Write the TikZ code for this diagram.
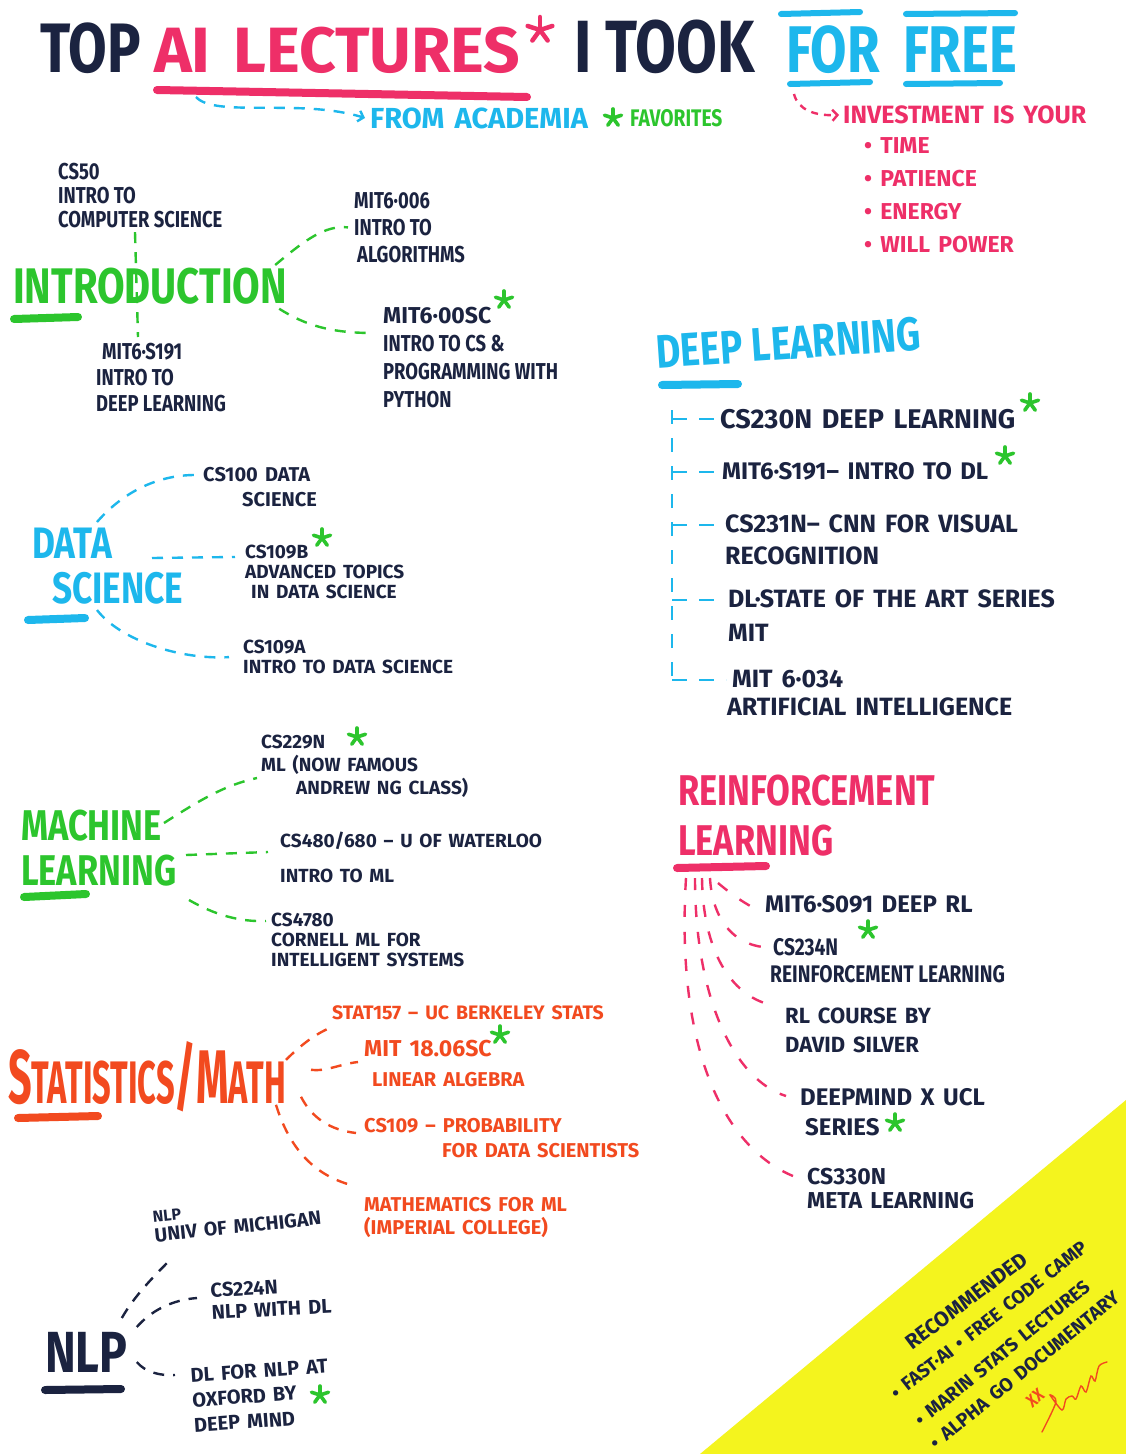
\documentclass[tikz,border=0pt]{standalone}
\usepackage{fontspec}
\setmainfont{Fira Sans}[FakeStretch=0.8]
\newfontfamily\wideface{Fira Sans}[WordSpace=1.5]
\usepackage{graphicx}
\usetikzlibrary{arrows.meta}

\definecolor{ink}{HTML}{1B2340}
\definecolor{hlpink}{HTML}{EE2F68}
\definecolor{hlcyan}{HTML}{1DB7EC}
\definecolor{hlgreen}{HTML}{2CC52D}
\definecolor{hlorange}{HTML}{F24A1F}
\definecolor{hlyellow}{HTML}{F4F41E}

\newcommand{\hand}[2]{\fontsize{#1}{#2}\selectfont\bfseries}
\newcommand{\whand}[2]{\wideface\fontsize{#1}{#2}\selectfont\bfseries}

\tikzset{
  head/.style={anchor=north west,inner sep=0pt,align=left},
  item/.style={anchor=north west,inner sep=0pt,align=left,text=ink},
  link/.style={line width=2.4pt,dash pattern=on 11pt off 9pt},
  uline/.style={line width=8pt,line cap=round},
  fav/.style={line width=3.6pt,line cap=round,draw=hlgreen},
  barb/.style={-{Straight Barb[length=5pt,width=11pt,line width=2.4pt]}},
}

\begin{document}
\begin{tikzpicture}[x=1pt,y=1pt]
   \fill[white] (0,0) rectangle (1126,-1454);
   \useasboundingbox (0,0) rectangle (1126,-1454);
   \fill[hlyellow] (1126,-1100) -- (700,-1454) -- (1126,-1454) -- cycle;

   % title
   \node[head,anchor=base west,text=ink,font=\hand{70}{70}] (top) at (40,-72) {TOP};
   \node[head,anchor=base west,text=hlpink,font=\whand{64}{64}] (ai) at (154,-72) {AI LECTURES};
   \node[head,anchor=base west,text=ink,font=\hand{74}{74}] (took) at (574,-72) {I TOOK};
   \node[head,anchor=base west,text=hlcyan,font=\hand{66}{66}] (for) at (786,-72) {FOR};
   \node[head,anchor=base west,text=hlcyan,font=\hand{66}{66}] (free) at (903,-72) {FREE};
   \draw[uline,hlpink] (157,-90) -- (527,-97);
   \draw[uline,hlcyan,line width=6pt] (781,-14) -- (860,-12);
   \draw[uline,hlcyan,line width=6pt] (906,-14) -- (1015,-13);
   \draw[uline,hlcyan,line width=6pt] (790,-84) -- (870,-82);
   \draw[uline,hlcyan,line width=6pt] (906,-84) -- (1000,-83);
   \coordinate (ailine) at (196,-97);
   \coordinate (forline) at (794,-94);

   \node[head,anchor=west,text=hlcyan,font=\whand{29}{29}] (academia) at (370,-118) {FROM ACADEMIA};
   \node[head,anchor=west,text=hlgreen,font=\hand{24}{24}] (favs) at (630,-118) {FAVORITES};
   \draw[link,hlcyan,barb] (ailine) .. controls (215,-118) and (300,-98) .. ([xshift=-5pt]academia.west);

   \node[head,anchor=west,text=hlpink,font=\whand{25}{25}] (invest) at (843,-115) {INVESTMENT IS YOUR};
   \node[head,text=hlpink,font=\whand{23}{33}] (invlist) at (864,-137) {• TIME\\• PATIENCE\\• ENERGY\\• WILL POWER};
   \draw[link,hlpink,barb,dash pattern=on 7pt off 6pt] (forline) .. controls (798,-110) and (815,-116) .. ([xshift=-4pt]invest.west);

   % introduction
   \node[head,text=hlgreen,font=\hand{50}{50}] (intro) at (13,-268) {INTRODUCTION};
   \draw[uline,hlgreen] (14,-319) -- (78,-317);
   \node[item,font=\hand{23}{24}] (cs50) at (58,-163) {CS50\\INTRO TO\\COMPUTER SCIENCE};
   \node[item,font=\hand{23}{26}] (s191) at (96,-343) {\hspace*{6pt}MIT6·S191\\INTRO TO\\DEEP LEARNING};
   \node[item,font=\hand{23}{27}] (m006) at (354,-192) {MIT6·006\\INTRO TO\\\hspace*{3pt}ALGORITHMS};
   \node[item,font=\hand{23}{28}] (m00sc) at (383,-307) {{\wideface MIT6·00SC}\\INTRO TO CS \&\\PROGRAMMING WITH\\PYTHON};
   \draw[link,hlgreen] ([xshift=77pt,yshift=-4pt]cs50.south west) -- ([xshift=42pt,yshift=6pt]s191.north west);
   \draw[link,hlgreen] ([xshift=-12pt,yshift=3pt]intro.north east) .. controls (305,-240) and (325,-225) .. ([xshift=-6pt]m006.west);
   \draw[link,hlgreen] ([xshift=-8pt,yshift=-4pt]intro.south east) .. controls (305,-325) and (330,-333) .. ([xshift=-10pt,yshift=-26pt]m00sc.north west);

   % data science
   \node[head,text=hlcyan,font=\hand{44}{45}] (ds) at (32,-528) {DATA\\\hspace*{20pt}SCIENCE};
   \draw[uline,hlcyan] (28,-620) -- (85,-618);
   \node[item,font=\whand{20}{25}] (cs100) at (203,-467) {CS100 DATA\\\hspace*{39pt}SCIENCE};
   \node[item,font=\whand{19}{20}] (cs109b) at (245,-545) {CS109B\\ADVANCED TOPICS\\\hspace*{6pt}IN DATA SCIENCE};
   \node[item,font=\whand{19}{20}] (cs109a) at (243,-640) {CS109A\\INTRO TO DATA SCIENCE};
   \draw[link,hlcyan] ([xshift=65pt,yshift=6pt]ds.north west) .. controls (125,-490) and (160,-475) .. ([xshift=-8pt,yshift=-8pt]cs100.north west);
   \draw[link,hlcyan] ([xshift=120pt,yshift=-30pt]ds.north west) -- ([xshift=-10pt,yshift=-12pt]cs109b.north west);
   \draw[link,hlcyan] ([xshift=65pt,yshift=-82pt]ds.north west) .. controls (120,-640) and (180,-660) .. ([xshift=-14pt]cs109a.west);

   % machine learning
   \node[head,text=hlgreen,font=\hand{43}{45}] (ml) at (21,-810) {MACHINE\\LEARNING};
   \draw[uline,hlgreen] (24,-897) -- (86,-894);
   \node[item,font=\whand{19}{23}] (cs229n) at (261,-735) {CS229N\\ML (NOW FAMOUS\\\hspace*{35pt}ANDREW NG CLASS)};
   \node[item,font=\whand{19}{35}] (cs480) at (280,-832) {CS480/680 – U OF WATERLOO\\INTRO TO ML};
   \node[item,font=\whand{19}{20}] (cs4780) at (271,-913) {CS4780\\CORNELL ML FOR\\INTELLIGENT SYSTEMS};
   \draw[link,hlgreen] ([xshift=143pt,yshift=-13pt]ml.north west) .. controls (200,-800) and (225,-785) .. ([xshift=-4pt,yshift=-43pt]cs229n.north west);
   \draw[link,hlgreen] ([xshift=165pt,yshift=-45pt]ml.north west) -- ([xshift=-12pt,yshift=-20pt]cs480.north west);
   \draw[link,hlgreen] ([xshift=168pt,yshift=-90pt]ml.north west) .. controls (215,-915) and (240,-922) .. ([xshift=-5pt,yshift=-8pt]cs4780.north west);

   % statistics / math
   \node[head,anchor=base west,text=hlorange,font=\hand{60}{60}] (stats) at (8,-1103)
      {\scalebox{0.68}[1]{{\fontsize{76}{76}\selectfont S}TATISTICS{\fontsize{76}{76}\selectfont /M}ATH}};
   \draw[uline,hlorange] (18,-1118) -- (98,-1116);
   \node[item,text=hlorange,font=\whand{19.5}{21}] (stat157) at (332,-1005) {STAT157 – UC BERKELEY STATS};
   \node[item,text=hlorange,font=\whand{20}{30}] (m1806) at (364,-1040) {{\fontsize{23}{23}\selectfont MIT 18.06SC}\\\hspace*{8pt}LINEAR ALGEBRA};
   \node[item,text=hlorange,font=\whand{20}{25}] (cs109) at (364,-1118) {CS109 – PROBABILITY\\\hspace*{78pt}FOR DATA SCIENTISTS};
   \node[item,text=hlorange,font=\whand{20}{23}] (mathml) at (364,-1197) {MATHEMATICS FOR ML\\(IMPERIAL COLLEGE)};
   \draw[link,hlorange] ([xshift=278pt,yshift=-19pt]stats.north west) .. controls (296,-1050) and (312,-1035) .. ([yshift=-22pt]stat157.north west);
   \draw[link,hlorange] ([xshift=303pt,yshift=-29pt]stats.north west) .. controls (325,-1072) and (340,-1064) .. ([xshift=-6pt,yshift=-22pt]m1806.north west);
   \draw[link,hlorange] ([xshift=293pt,yshift=-56pt]stats.north west) .. controls (312,-1118) and (330,-1130) .. ([xshift=-8pt,yshift=-15pt]cs109.north west);
   \draw[link,hlorange] ([xshift=268pt,yshift=-64pt]stats.north west) .. controls (290,-1150) and (315,-1175) .. ([xshift=-13pt,yshift=12pt]mathml.north west);

   % nlp
   \node[head,text=ink,font=\hand{58}{58}] (nlp) at (45,-1332) {NLP};
   \draw[uline,ink] (45,-1390) -- (121,-1389);
   \node[item,font=\whand{19.5}{20},rotate=6] (umich) at (152,-1211) {{\fontsize{16}{16}\selectfont NLP}\\UNIV OF MICHIGAN};
   \node[item,font=\whand{20}{22},rotate=3] (cs224n) at (210,-1283) {CS224N\\NLP WITH DL};
   \node[item,font=\whand{20}{25},rotate=4] (dlnlp) at (190,-1368) {DL FOR NLP AT\\OXFORD BY\\DEEP MIND};
   \draw[link,ink] ([xshift=-6pt,yshift=14pt]nlp.north east) .. controls (135,-1295) and (155,-1275) .. ([xshift=21pt,yshift=-46pt]umich.north west);
   \draw[link,ink] ([xshift=9pt,yshift=5pt]nlp.north east) .. controls (150,-1312) and (170,-1300) .. ([xshift=-13pt,yshift=-15pt]cs224n.north west);
   \draw[link,ink] ([xshift=9pt,yshift=-30pt]nlp.north east) .. controls (145,-1372) and (160,-1376) .. ([xshift=-15pt,yshift=-7pt]dlnlp.north west);

   % deep learning
   \node[head,text=hlcyan,font=\hand{47}{47},rotate=4] (dl) at (655,-335) {DEEP LEARNING};
   \draw[uline,hlcyan] (662,-385) -- (738,-384);
   \node[item,font=\whand{27}{32}] (dl1) at (720,-409) {CS230N DEEP LEARNING};
   \node[item,font=\whand{24}{32}] (dl2) at (722,-462) {MIT6·S191– INTRO TO DL};
   \node[item,font=\whand{25}{32}] (dl3) at (725,-515) {CS231N– CNN FOR VISUAL\\RECOGNITION};
   \node[item,font=\whand{25}{34}] (dl4) at (728,-590) {DL·STATE OF THE ART SERIES\\MIT};
   \node[item,font=\whand{25}{28}] (dl5) at (732,-670) {MIT 6·034\\\hspace*{-5pt}ARTIFICIAL INTELLIGENCE};
   \coordinate (dlrule) at (672,-410);
   \foreach \n in {dl1,dl2,dl3,dl4,dl5}
      \path ([yshift=-10pt]\n.north west) coordinate (\n-in);
   \draw[link,hlcyan,dash pattern=on 14pt off 14pt] (dlrule) -- (dlrule |- dl5-in);
   \foreach \n in {dl1,dl2,dl3,dl4,dl5}
      \draw[link,hlcyan,dash pattern=on 15pt off 12pt] (dlrule |- \n-in) -- ([xshift=-6pt]\n-in);

   % reinforcement learning
   \node[head,text=hlpink,font=\hand{43}{50}] (rl) at (678,-775) {REINFORCEMENT\\LEARNING};
   \draw[uline,hlpink] (677,-868) -- (766,-866);
   \coordinate (rlfoot) at (690,-878);
   \node[item,font=\whand{24}{27}] (rl1) at (765,-895) {MIT6·S091 DEEP RL};
   \node[item,font=\hand{24}{27}] (rl2) at (773,-938) {CS234N\\\hspace*{-3pt}REINFORCEMENT LEARNING};
   \node[item,font=\whand{22}{29}] (rl3) at (785,-1008) {RL COURSE BY\\DAVID SILVER};
   \node[item,font=\whand{24}{30}] (rl4) at (800,-1088) {DEEPMIND X UCL\\\hspace*{5pt}SERIES};
   \node[item,font=\whand{23}{24}] (rl5) at (807,-1168) {CS330N\\META LEARNING};
   \draw[link,hlpink,dash pattern=on 12pt off 15pt] ([xshift=28pt,yshift=-5pt]rlfoot) .. controls (730,-893) and (742,-902) .. ([xshift=-8pt]rl1.mid west);
   \draw[link,hlpink,dash pattern=on 12pt off 15pt] ([xshift=20pt]rlfoot) .. controls (712,-915) and (730,-943) .. ([xshift=-10pt,yshift=-9pt]rl2.north west);
   \draw[link,hlpink,dash pattern=on 12pt off 15pt] ([xshift=12pt]rlfoot) .. controls (703,-950) and (730,-995) .. ([xshift=-14pt,yshift=3pt]rl3.north west);
   \draw[link,hlpink,dash pattern=on 12pt off 15pt] ([xshift=5pt]rlfoot) .. controls (695,-1000) and (735,-1080) .. ([xshift=-14pt,yshift=-8pt]rl4.north west);
   \draw[link,hlpink,dash pattern=on 12pt off 15pt] ([xshift=-4pt]rlfoot) .. controls (675,-1060) and (730,-1150) .. ([xshift=-14pt,yshift=-8pt]rl5.north west);

   % recommended corner
   \node[head,anchor=west,text=ink,font=\whand{21}{21},rotate=37] (rec0) at (908,-1345) {RECOMMENDED};
   \node[head,anchor=west,text=ink,font=\whand{19}{19},rotate=38] (rec1) at (893,-1395) {• FAST·AI • FREE CODE CAMP};
   \node[head,anchor=west,text=ink,font=\whand{19}{19},rotate=39] (rec2) at (917,-1422) {• MARIN STATS LECTURES};
   \node[head,anchor=west,text=ink,font=\whand{19}{19},rotate=39] (rec3) at (932,-1445) {• ALPHA GO DOCUMENTARY};
   \node[head,anchor=center,text=hlorange,font=\hand{18}{18},rotate=38] (xx) at (1035,-1398) {XX};
   \draw[hlorange,line width=1.4pt,line cap=round] plot[smooth] coordinates {(1042,-1432) (1056,-1402) (1050,-1395) (1062,-1410) (1066,-1399) (1072,-1396) (1076,-1399) (1081,-1386) (1086,-1392) (1091,-1376) (1095,-1381) (1099,-1366) (1107,-1362)};

   % favourites
   \foreach \p in {(504,-300),(322,-538),(357,-737),(500,-1035),(320,-1395),(1030,-403),(1005,-456),(868,-930),(895,-1123),(613,-118)}
      \foreach \a in {90,162,234,306,18}
         \draw[fav] \p -- ++(\a:9);
   \foreach \a in {90,162,234,306,18}
      \draw[fav,draw=hlpink,line width=4.5pt] (540,-30) -- ++(\a:13);
\end{tikzpicture}
\end{document}
